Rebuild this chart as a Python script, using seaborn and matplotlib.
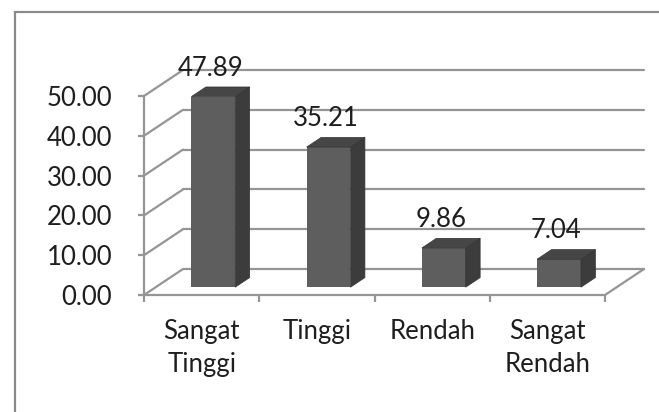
import matplotlib
matplotlib.use('Agg')
import numpy as np
import pandas as pd
import matplotlib.pyplot as plt
import seaborn as sns
from matplotlib.transforms import ScaledTranslation, IdentityTransform
from matplotlib.patches import Polygon, Rectangle
from matplotlib.lines import Line2D

categories = ['Sangat\nTinggi', 'Tinggi', 'Rendah', 'Sangat\nRendah']
values = [47.89, 35.21, 9.86, 7.04]
value_labels = ['47.89', '35.21', '9.86', '7.04']
y_ticks = [0, 10, 20, 30, 40, 50]
y_tick_labels = ['0.00', '10.00', '20.00', '30.00', '40.00', '50.00']

sns.set_style('white')
plt.rcParams['font.family'] = ['Lato', 'DejaVu Sans']

DPI = 100
GRID = '#959595'
TEXT = '#1e1e1e'
DEPTH = np.array([39.0, 26.0])      # floor depth in pixels (right, up)
BAR_FRONT = 0.30                    # bar front face position in depth
BAR_DEPTH = 0.37                    # bar thickness in depth

fig = plt.figure(figsize=(6.59, 4.12), dpi=DPI)
ax = fig.add_axes([144 / 659, 117 / 412, 461 / 659, 199 / 412])

df = pd.DataFrame({'kategori': categories, 'persen': values})
sns.barplot(data=df, x='kategori', y='persen', color='#5e5e5e', saturation=1,
            width=0.38, ax=ax, zorder=3, edgecolor='none')
ax.set_xlim(-0.5, 3.5)
ax.set_ylim(0, 50)
ax.patch.set_visible(False)
ax.set_xlabel('')
ax.set_ylabel('')

# axis lines and ticks
for side in ['top', 'right']:
    ax.spines[side].set_visible(False)
for side in ['left', 'bottom']:
    ax.spines[side].set_color(GRID)
    ax.spines[side].set_linewidth(1.6)

ax.set_yticks(y_ticks, y_tick_labels)
ax.set_xticks(range(len(categories)), categories)
ax.set_xticks([-0.5, 0.5, 1.5, 2.5, 3.5], minor=True)
ax.tick_params(axis='y', length=4.5, width=1.6, color=GRID, pad=18.5,
               labelsize=18.5, labelcolor=TEXT, left=True)
ax.tick_params(axis='x', which='major', length=0, pad=17, labelsize=18.5, labelcolor=TEXT)
ax.tick_params(axis='x', which='minor', length=5, width=1.6, color=GRID, bottom=True)
for lab in ax.get_xticklabels():
    lab.set_linespacing(1.4)

ident = IdentityTransform()

# back wall gridlines and left wall diagonals
for t in y_ticks:
    p0 = ax.transData.transform((-0.5, t))
    p1 = ax.transData.transform((3.5, t))
    b0, b1 = p0 + DEPTH, p1 + DEPTH
    ax.add_line(Line2D([b0[0], b1[0]], [b0[1], b1[1]], color=GRID, lw=1.6,
                       transform=ident, clip_on=False, zorder=1))
    ax.add_line(Line2D([p0[0], b0[0]], [p0[1], b0[1]], color=GRID, lw=1.6,
                       transform=ident, clip_on=False, zorder=1))
# right edge of the floor
p1 = ax.transData.transform((3.5, 0))
ax.add_line(Line2D([p1[0], p1[0] + DEPTH[0]], [p1[1], p1[1] + DEPTH[1]], color=GRID,
                   lw=1.6, transform=ident, clip_on=False, zorder=1))

# 3D bars: shift the seaborn bars and add side / top faces
shift = BAR_FRONT * DEPTH
d = BAR_DEPTH * DEPTH
for patch in ax.patches:
    x, w, h = patch.get_x(), patch.get_width(), patch.get_height()
    patch.set_transform(ax.transData + ScaledTranslation(shift[0] / DPI, shift[1] / DPI,
                                                         fig.dpi_scale_trans))
    bl = ax.transData.transform((x, 0)) + shift
    br = ax.transData.transform((x + w, 0)) + shift
    tr = ax.transData.transform((x + w, h)) + shift
    tl = ax.transData.transform((x, h)) + shift
    ax.add_patch(Polygon([br, br + d, tr + d, tr], closed=True, facecolor='#3c3c3c',
                         edgecolor='#333333', lw=0.5, transform=ident, clip_on=False, zorder=3))
    ax.add_patch(Polygon([tl, tr, tr + d, tl + d], closed=True, facecolor='#464646',
                         edgecolor='#333333', lw=0.5, transform=ident, clip_on=False, zorder=3))

# value labels
for i, (v, lab) in enumerate(zip(values, value_labels)):
    ax.annotate(lab, xy=(i, v), xytext=(9, 36), textcoords='offset pixels',
                ha='center', va='center', fontsize=18.5, color=TEXT, zorder=5,
                annotation_clip=False)

# chart frame
fig.add_artist(Rectangle((15 / 659, -0.2), 1.2, 0.2 + 400 / 412, fill=False,
                         edgecolor='#8a8a8a', lw=1.6, transform=fig.transFigure,
                         clip_on=False))

fig.savefig('out.png', dpi=DPI, facecolor='white')
